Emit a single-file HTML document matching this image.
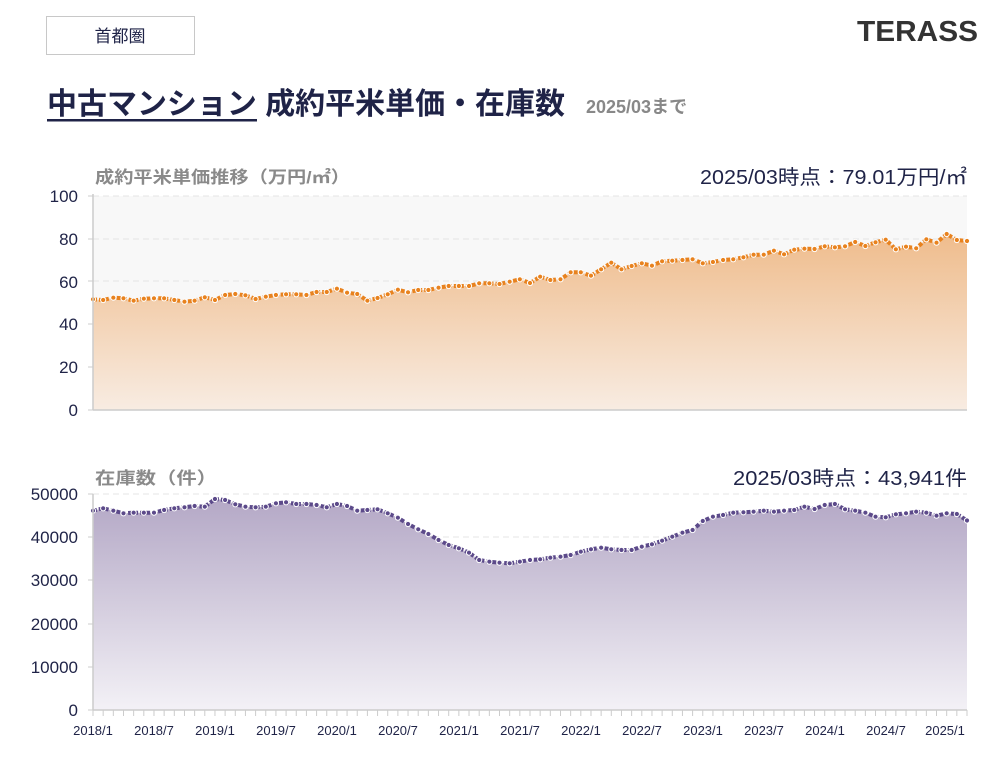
<!DOCTYPE html>
<html><head><meta charset="utf-8"><style>
body{margin:0;background:#fff;width:1006px;height:756px;overflow:hidden;font-family:"Liberation Sans","Noto Sans CJK JP",sans-serif}
svg text{font-family:"Liberation Sans","Noto Sans CJK JP",sans-serif}
</style></head><body>
<svg id="s" width="1006" height="756" xmlns="http://www.w3.org/2000/svg">
<defs>
<linearGradient id="g1" x1="0" y1="0" x2="0" y2="1"><stop offset="0" stop-color="#efbc8c"/><stop offset="1" stop-color="#f8ece2"/></linearGradient>
<linearGradient id="g2" x1="0" y1="0" x2="0" y2="1"><stop offset="0" stop-color="#b4a8c6"/><stop offset="1" stop-color="#f3f1f6"/></linearGradient>
</defs>
<rect x="46.5" y="16.5" width="148" height="38" fill="#fff" stroke="#c8c8c8"/>
<text x="120" y="42" text-anchor="middle" font-size="17" fill="#1f2347">首都圏</text>
<text x="857" y="41" font-size="29" font-weight="bold" fill="#333" textLength="121" lengthAdjust="spacingAndGlyphs">TERASS</text>
<text x="47" y="114" font-size="30" font-weight="bold" fill="#1f2347" textLength="518" lengthAdjust="spacingAndGlyphs">中古マンション 成約平米単価・在庫数</text>
<rect x="47" y="119" width="210" height="2.5" fill="#1f2347"/>
<text x="586" y="113" font-size="18" font-weight="bold" fill="#888">2025/03まで</text>
<text x="95" y="183" font-size="17" font-weight="bold" fill="#8a8a8a" textLength="255" lengthAdjust="spacingAndGlyphs">成約平米単価推移（万円/㎡）</text>
<text x="967" y="184" text-anchor="end" font-size="20" fill="#1f2347" textLength="267" lengthAdjust="spacingAndGlyphs">2025/03時点：79.01万円/㎡</text>
<text x="95" y="484" font-size="17" font-weight="bold" fill="#8a8a8a" textLength="122" lengthAdjust="spacingAndGlyphs">在庫数（件）</text>
<text x="967" y="485" text-anchor="end" font-size="20" fill="#1f2347" textLength="234" lengthAdjust="spacingAndGlyphs">2025/03時点：43,941件</text>
<rect x="93" y="196" width="874" height="214" fill="#f8f8f8"/>
<g id="grid" stroke="#e4e4e4" stroke-dasharray="6 4"></g>
<g id="plots"></g>
<g stroke="#ccc" stroke-width="1.5"><line x1="93" y1="194" x2="93" y2="410"/><line x1="93" y1="494" x2="93" y2="710"/><line x1="93" y1="710" x2="967" y2="710"/><line x1="93" y1="410" x2="967" y2="410"/></g>
<g id="ticks" stroke="#ccc"></g>
<g font-size="17" fill="#1f2347" text-anchor="end">
<text x="78" y="202">100</text><text x="78" y="245">80</text><text x="78" y="288">60</text><text x="78" y="330">40</text><text x="78" y="373">20</text><text x="78" y="416">0</text>
<text x="78" y="500">50000</text><text x="78" y="543">40000</text><text x="78" y="586">30000</text><text x="78" y="630">20000</text><text x="78" y="673">10000</text><text x="78" y="716">0</text>
</g>
<g font-size="13" fill="#1f2347" text-anchor="middle">
<text x="93" y="735">2018/1</text><text x="154" y="735">2018/7</text><text x="215" y="735">2019/1</text><text x="276" y="735">2019/7</text><text x="337" y="735">2020/1</text><text x="398" y="735">2020/7</text><text x="459" y="735">2021/1</text><text x="520" y="735">2021/7</text><text x="581" y="735">2022/1</text><text x="642" y="735">2022/7</text><text x="703" y="735">2023/1</text><text x="764" y="735">2023/7</text><text x="825" y="735">2024/1</text><text x="886" y="735">2024/7</text><text x="945" y="735">2025/1</text>
</g>
</svg>
<script>
var p=[299.3,300,297.7,298.3,300.7,298.7,298.3,298.3,300,301.7,300.7,297.3,300,295,294,295.3,299,296.7,295,294.3,294.3,295,292,292,288.7,292.7,294,300.7,298,294.3,289.7,292.3,290,290,287.7,286,286,286,283.3,283.3,284,281.7,279.3,283,276.7,280,279.3,272.3,272.3,275.7,269.3,262.7,269.3,266,263.3,265.7,261.3,260.7,260,259.3,263.3,262,260,259.3,257.3,254.7,254.7,250.7,254.3,249.7,248.7,249,246.3,247.3,246.3,242,246,242.3,239.7,249.3,246.7,248.3,239.3,242.7,234,240,241];
var q=[510.7,508.3,510.7,513.3,512.7,512.7,512.7,510,508.3,507.3,506,506.7,499,500,504.3,506.7,507.3,506.7,503.3,502.3,504,504,505,507.3,504,506,510.7,510,509.3,513.3,517.7,524,529.3,534,540,545,548.3,552.7,560,561.7,562.7,563.3,561.7,560,559.3,557.7,556.7,555,551.7,549.3,547.7,549.3,550,550,546.7,544.3,540.7,536.7,532.7,530,521,516.7,515,512.7,512.3,511.7,510.7,511.7,510.7,510,506.7,509,505,504,509.3,510.7,512.7,516.7,517.3,514.3,513.3,511.7,512.7,515.7,513.3,514,520.5];
var NS="http://www.w3.org/2000/svg",st=874/86;
function el(t,a,par){var e=document.createElementNS(NS,t);for(var k in a)e.setAttribute(k,a[k]);document.getElementById(par).appendChild(e);return e;}
[196,239,281,324,367].forEach(function(y){el('line',{x1:93,y1:y,x2:967,y2:y},'grid')});
[494,537,580,624,667].forEach(function(y){el('line',{x1:93,y1:y,x2:967,y2:y},'grid')});
[196,239,281,324,367,410,494,537,580,624,667,710].forEach(function(y){el('line',{x1:88,y1:y,x2:93,y2:y},'ticks')});
for(var i=0;i<87;i++){var x=93+i*st;el('line',{x1:x,y1:710,x2:x,y2:716},'ticks');}
function draw(d,base,col,fill){var pts=d.map(function(y,i){return (93+i*st).toFixed(1)+','+y}).join(' ');
el('polygon',{points:'93,'+base+' '+pts+' 967,'+base,fill:fill},'plots');
el('polyline',{points:pts,fill:'none',stroke:col,'stroke-width':4,'stroke-dasharray':'4 2'},'plots');
d.forEach(function(y,i){el('circle',{cx:93+i*st,cy:y,r:2.6,fill:col,stroke:'#fff','stroke-width':1},'plots')});}
draw(p,410,'#e8821e','url(#g1)');draw(q,710,'#5c4a8a','url(#g2)');
</script>
</body></html>
